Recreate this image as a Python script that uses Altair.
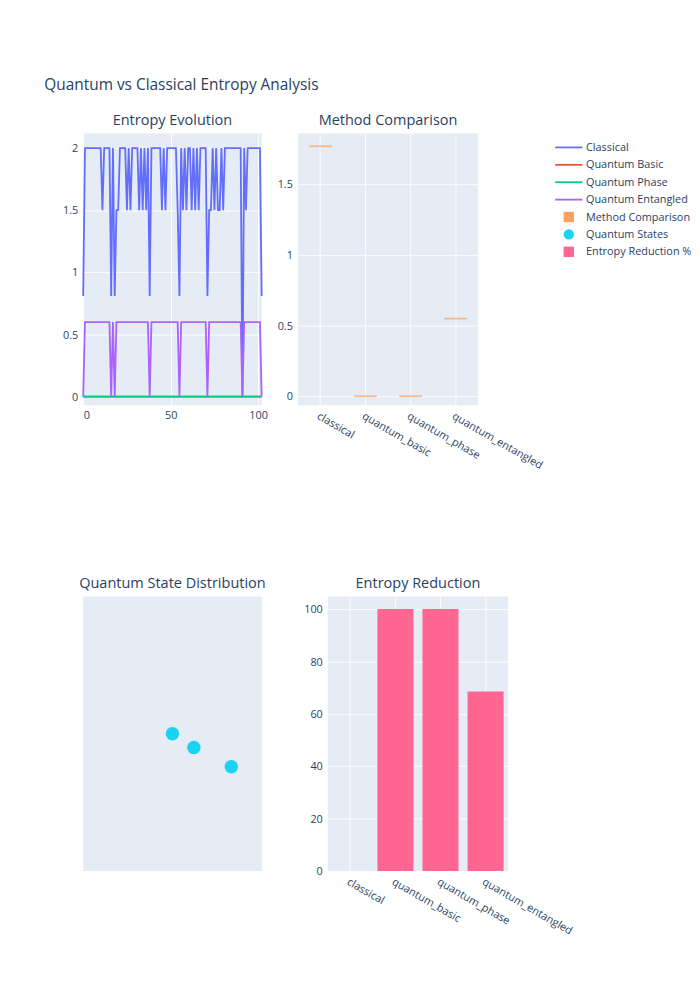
import altair as alt
import pandas as pd

# entropy evolution
classical = [0.81, 2, 2, 2, 2, 2, 2, 2, 2, 2, 2, 1.5, 2, 2, 2, 2, 0.81, 2, 0.81, 1.5,
             1.5, 2, 2, 2, 2, 1.5, 2, 1.5, 2, 2, 2, 2, 1.5, 2, 1.5, 2, 1.5, 2, 0.81, 2,
             2, 2, 2, 2, 2, 1.5, 2, 1.5, 2, 2, 2, 2, 2, 2, 1.5, 0.81, 2, 1.5, 2, 1.5,
             2, 2, 1.5, 2, 1.5, 2, 1.5, 2, 2, 2, 2, 0.81, 1.5, 1.5, 2, 1.5, 2, 1.5, 1.5, 2,
             1.5, 2, 2, 2, 2, 2, 2, 2, 2, 2, 2, 0, 2, 1.5, 2, 2, 2, 2, 2, 2,
             2, 2, 0.81]
entangled = [0 if i in (0, 16, 18, 38, 55, 71, 91, 102) else 0.6 for i in range(103)]
methods = ["classical", "quantum_basic", "quantum_phase", "quantum_entangled"]
method_entropy = [1.77, 0.0, 0.0, 0.55]
reduction = [0, 100, 100, 68.5]
state_x = [0.50, 0.62, 0.83]
state_y = [0.50, 0.45, 0.38]

legend_labels = ["Classical", "Quantum Basic", "Quantum Phase", "Quantum Entangled",
                 "Method Comparison", "Quantum States", "Entropy Reduction %"]
legend_colors = ["#636efa", "#EF553B", "#00cc96", "#ab63fa", "#FFA15A", "#19d3f3", "#FF6692"]

BG = "#E5ECF6"
FONT = "#2a3f5f"

rows = []
for i, v in enumerate(classical):
    rows.append({"step": i, "entropy": v, "series": "Classical"})
    rows.append({"step": i, "entropy": 0.0, "series": "Quantum Basic"})
    rows.append({"step": i, "entropy": 0.0, "series": "Quantum Phase"})
    rows.append({"step": i, "entropy": entangled[i], "series": "Quantum Entangled"})
evo = pd.DataFrame(rows)

def ptitle(t):
    return alt.TitleParams(t, fontSize=16, font="Open Sans", color=FONT, fontWeight="normal", offset=6)

lines = alt.Chart(evo).mark_line(strokeWidth=2).encode(
    x=alt.X("step:Q", scale=alt.Scale(domain=[0, 102], nice=False),
            axis=alt.Axis(values=[0, 50, 100], title=None)),
    y=alt.Y("entropy:Q", scale=alt.Scale(domain=[-0.07, 2.117], nice=False),
            axis=alt.Axis(values=[0, 0.5, 1, 1.5, 2], format="~g", title=None)),
    color=alt.Color("series:N", scale=alt.Scale(domain=legend_labels[:4], range=legend_colors[:4]), legend=None),
    order=alt.Order("order:Q"),
).transform_calculate(
    order="indexof(['Quantum Basic','Quantum Phase','Classical','Quantum Entangled'], datum.series)"
).properties(width=197, height=300, title=ptitle("Entropy Evolution"))

cat_x = alt.X("method:N", sort=methods, scale=alt.Scale(paddingInner=0.2, paddingOuter=0.1),
              axis=alt.Axis(title=None, labelAngle=30, labelAlign="left", labelBaseline="top", ticks=False))

mc = alt.Chart(pd.DataFrame({"method": methods, "entropy": method_entropy})).mark_tick(
    color="#FFA15A", size=25, thickness=2, orient="horizontal"
).encode(
    x=cat_x,
    y=alt.Y("entropy:Q", scale=alt.Scale(domain=[-0.064, 1.86], nice=False),
            axis=alt.Axis(values=[0, 0.5, 1, 1.5], format="~g", title=None)),
).properties(width=199, height=300, title=ptitle("Method Comparison"))

leg = pd.DataFrame({"label": legend_labels, "color": legend_colors,
                    "kind": ["line"] * 4 + ["square", "circle", "square"]})
leg_y = alt.Y("label:N", sort=legend_labels, axis=None, scale=alt.Scale(paddingOuter=0.3))
leg_rule = alt.Chart(leg).transform_filter("datum.kind == 'line'").mark_rule(strokeWidth=2).encode(
    x=alt.value(2), x2=alt.value(32), y=leg_y, color=alt.Color("color:N", scale=None))
leg_pt = alt.Chart(leg).transform_filter("datum.kind != 'line'").mark_point(filled=True, size=130, opacity=1).encode(
    x=alt.value(17), y=leg_y, color=alt.Color("color:N", scale=None),
    shape=alt.Shape("kind:N", scale=None))
leg_txt = alt.Chart(leg).mark_text(align="left", font="Open Sans", fontSize=12, color=FONT).encode(
    x=alt.value(36), y=leg_y, text="label:N")
legend = (leg_rule + leg_pt + leg_txt).properties(
    width=150, height=alt.Step(19.2), view=alt.ViewBackground(fill="white", strokeWidth=0))

states = alt.Chart(pd.DataFrame({"x": state_x, "y": state_y})).mark_circle(
    size=220, color="#19d3f3", opacity=1
).encode(
    x=alt.X("x:Q", scale=alt.Scale(domain=[0, 1]), axis=None),
    y=alt.Y("y:Q", scale=alt.Scale(domain=[0, 1]), axis=None),
).properties(width=197, height=303, title=ptitle("Quantum State Distribution"))

bars = alt.Chart(pd.DataFrame({"method": methods, "reduction": reduction})).mark_bar(color="#FF6692").encode(
    x=cat_x,
    y=alt.Y("reduction:Q", scale=alt.Scale(domain=[0, 104.8], nice=False),
            axis=alt.Axis(values=[0, 20, 40, 60, 80, 100], title=None)),
).properties(width=199, height=303, title=ptitle("Entropy Reduction"))

top = alt.hconcat(lines, mc, legend, spacing=10)
bottom = alt.hconcat(states, bars, spacing=41)

chart = alt.vconcat(top, bottom, spacing=117).properties(
    title=alt.TitleParams("Quantum vs Classical Entropy Analysis", fontSize=17, font="Open Sans",
                          color=FONT, fontWeight="normal", anchor="start", offset=22, dx=-20),
    padding={"left": 40, "top": 26, "right": 0, "bottom": 0},
).configure_view(fill=BG, strokeWidth=0).configure_axis(
    grid=True, gridColor="white", gridWidth=1, domain=False, tickColor="white",
    labelFont="Open Sans", labelFontSize=12, labelColor=FONT, labelPadding=6, tickSize=0,
).configure_concat(spacing=41)

chart.save("out.html", embed_options={"renderer": "svg", "actions": False})
